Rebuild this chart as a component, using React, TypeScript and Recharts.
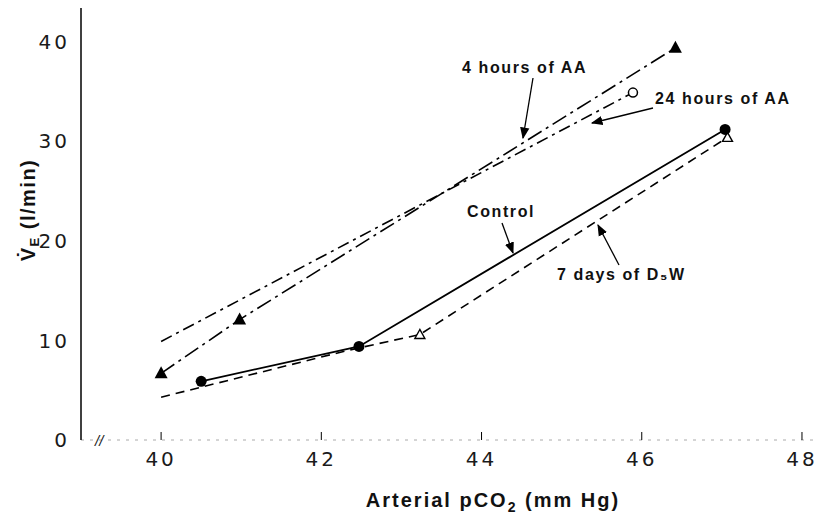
import React from "react";
import { LineChart, Line, XAxis, YAxis, Label } from "recharts";

// Arterial pCO2 (mm Hg) vs ventilation (l/min)
const controlX = [40.5, 42.47, 47.04];
const controlY = [5.9, 9.4, 31.2];

const days7X = [40, 42.33, 43.23, 47.07];
const days7Y = [4.3, 9.0, 10.6, 30.4];

const aa4X = [40, 40.98, 46.42];
const aa4Y = [6.7, 12.1, 39.4];

const aa24X = [40, 45.89];
const aa24Y = [9.9, 34.9];

const xTicks = [40, 42, 44, 46, 48];
const yTicks = [0, 10, 20, 30, 40];

const toRows = (xs: number[], ys: number[]) => xs.map((x, i) => ({ x, y: ys[i] }));

const controlData = toRows(controlX, controlY);
const days7Data = toRows(days7X, days7Y);
const aa4Data = toRows(aa4X, aa4Y);
const aa24Data = toRows(aa24X, aa24Y);

const FONT = "'Liberation Sans', Arial, sans-serif";
const TICK_FONT = "'DejaVu Sans', sans-serif";

const FilledTriangle = (p: any) => {
    const { cx, cy, index } = p;
    return (
        <polygon
            key={"t" + index}
            points={`${cx},${cy - 7} ${cx - 6.5},${cy + 5} ${cx + 6.5},${cy + 5}`}
            fill="#000"
        />
    );
};

const FilledCircle = (p: any) => (
    <circle key={"c" + p.index} cx={p.cx} cy={p.cy} r={5.5} fill="#000" />
);

const OpenTriangle = (p: any) => {
    const { cx, cy, index } = p;
    if (index < 2) return <g key={"o" + index} />;
    return (
        <polygon
            key={"o" + index}
            points={`${cx},${cy - 5} ${cx - 5},${cy + 4} ${cx + 5},${cy + 4}`}
            fill="#fff"
            stroke="#000"
            strokeWidth={1.4}
        />
    );
};

const OpenCircleLast = (p: any) => {
    const { cx, cy, index } = p;
    if (index !== aa24X.length - 1) return <g key={"e" + index} />;
    return <circle key={"e" + index} cx={cx} cy={cy} r={4.5} fill="#fff" stroke="#000" strokeWidth={1.5} />;
};

const XTick = (p: any) => {
    const { x, y, payload } = p;
    return (
        <g>
            <line x1={x} x2={x} y1={y - 8} y2={y} stroke="#000" strokeWidth={1} />
            <text x={x} y={y + 26} textAnchor="middle" fontFamily={TICK_FONT} fontSize={20} letterSpacing={3} fill="#1a1a1a">
                {payload.value}
            </text>
        </g>
    );
};

const YLabel = () => (
    <text transform="translate(35,210) rotate(-90)" textAnchor="middle" fontFamily={FONT} fontWeight="bold" fontSize={20} letterSpacing={1.5} fill="#111">
        <tspan>V̇</tspan>
        <tspan fontSize={13} dy={4}>E</tspan>
        <tspan dy={-4}> (l/min)</tspan>
    </text>
);

const XLabel = () => (
    <text x={493} y={507} textAnchor="middle" fontFamily={FONT} fontWeight="bold" fontSize={20} letterSpacing={2} fill="#111">
        <tspan>Arterial pCO</tspan>
        <tspan fontSize={14} dy={5}>2</tspan>
        <tspan dy={-5}> (mm Hg)</tspan>
    </text>
);

export default function App() {
    return (
        <div style={{ position: "absolute", left: 0, top: 0, width: 821, height: 516, background: "#fff" }}>
            <LineChart width={821} height={516} margin={{ top: 8, right: 3, left: 0, bottom: 0 }}>
                <XAxis
                    type="number"
                    dataKey="x"
                    domain={[39, 48.2]}
                    ticks={xTicks}
                    tick={<XTick />}
                    tickSize={0}
                    tickMargin={0}
                    height={76}
                    stroke="#999"
                    axisLine={{ stroke: "#aaa", strokeDasharray: "3 6" }}
                    allowDuplicatedCategory={false}
                >
                    <Label content={<XLabel />} />
                </XAxis>
                <YAxis
                    type="number"
                    dataKey="y"
                    domain={[0, 43.4]}
                    ticks={yTicks}
                    width={81}
                    tickLine={false}
                    axisLine={{ stroke: "#000", strokeWidth: 1.5 }}
                    tickMargin={5}
                    tick={{ fontFamily: TICK_FONT, fontSize: 20, fill: "#1a1a1a", letterSpacing: 3 }}
                >
                    <Label content={<YLabel />} />
                </YAxis>
                <Line
                    data={aa24Data}
                    dataKey="y"
                    stroke="#000"
                    strokeWidth={1.6}
                    strokeDasharray="12 5 3 5"
                    dot={OpenCircleLast}
                    isAnimationActive={false}
                />
                <Line
                    data={aa4Data}
                    dataKey="y"
                    stroke="#000"
                    strokeWidth={1.6}
                    strokeDasharray="16 5 3 5"
                    dot={FilledTriangle}
                    isAnimationActive={false}
                />
                <Line
                    data={days7Data}
                    dataKey="y"
                    stroke="#000"
                    strokeWidth={1.6}
                    strokeDasharray="9 6"
                    dot={OpenTriangle}
                    isAnimationActive={false}
                />
                <Line
                    data={controlData}
                    dataKey="y"
                    stroke="#000"
                    strokeWidth={1.8}
                    dot={FilledCircle}
                    isAnimationActive={false}
                />
            </LineChart>
            {/* annotations */}
            <svg width={821} height={516} style={{ position: "absolute", left: 0, top: 0, pointerEvents: "none" }}>
                <defs>
                    <marker id="arr" viewBox="0 0 10 10" refX="9" refY="5" markerWidth="9" markerHeight="9" orient="auto">
                        <path d="M0,1 L10,5 L0,9 z" fill="#000" />
                    </marker>
                </defs>
                <text x={95} y={446} fontFamily={FONT} fontStyle="italic" fontSize={15} fill="#222">//</text>
                <g fontFamily={FONT} fontWeight="bold" fontSize={16} letterSpacing={1.6} fill="#111">
                    <text x={462} y={73}>4 hours of AA</text>
                    <text x={655} y={104}>24 hours of AA</text>
                    <text x={467} y={217}>Control</text>
                    <text x={557} y={280}>7 days of D₅W</text>
                </g>
                <g stroke="#000" strokeWidth={1.3}>
                    <line x1={533} y1={78} x2={523} y2={138} markerEnd="url(#arr)" />
                    <line x1={653} y1={108} x2={592} y2={123} markerEnd="url(#arr)" />
                    <line x1={502} y1={223} x2={513} y2={253} markerEnd="url(#arr)" />
                    <line x1={619} y1={265} x2={598} y2={225} markerEnd="url(#arr)" />
                </g>
            </svg>
        </div>
    );
}
